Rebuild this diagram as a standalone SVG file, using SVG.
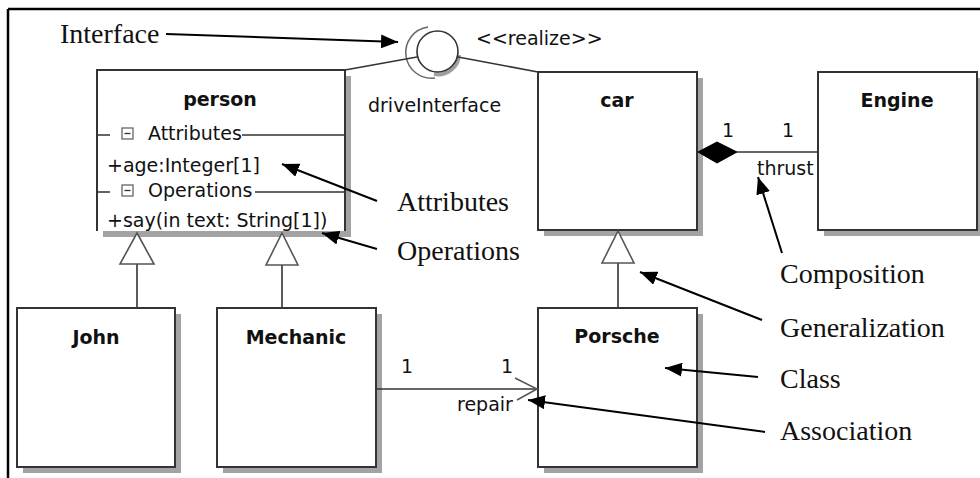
<svg xmlns="http://www.w3.org/2000/svg" width="980" height="478" viewBox="0 0 980 478">
<style>
.box{fill:#fff;stroke:#333;stroke-width:2}
.shadow{fill:#a3a3a3}
.title{font-family:"DejaVu Sans",sans-serif;font-weight:bold;font-size:19px;fill:#111;text-anchor:middle}
.t{font-family:"DejaVu Sans",sans-serif;font-size:19px;fill:#111}
.note{font-family:"Liberation Serif",serif;font-size:28px;fill:#111}
.ln{fill:none;stroke:#333;stroke-width:1.6}
.gen{fill:#fff;stroke:#555;stroke-width:1.6}
.ann{fill:none;stroke:#000;stroke-width:2;marker-end:url(#ah)}
</style>
<defs>
<marker id="ah" markerUnits="userSpaceOnUse" markerWidth="18" markerHeight="14" refX="17" refY="7" orient="auto">
<path d="M0,0 L17,7 L0,14 Z" fill="#000"/>
</marker>
</defs>
<rect width="980" height="478" fill="#fff"/>
<g id="frame">
<path d="M8,9 H980 M8,9 V478" fill="none" stroke="#000" stroke-width="2.5"/>
</g>

<g id="person">
<rect class="shadow" x="103" y="76" width="248" height="161"/>
<rect x="97" y="70" width="248" height="161" fill="#fff"/>
<path d="M97,231 V70 H345 V231" fill="none" stroke="#333" stroke-width="2"/>
<text class="title" x="220" y="106">person</text>
<path d="M97,135 H110 M242,135 H345 M97,192 H110 M255,192 H345" class="ln"/>
<rect x="122" y="128" width="11" height="11" fill="none" stroke="#666" stroke-width="1.3"/>
<path d="M124.5,133.5 H130.5" stroke="#333" stroke-width="1.3"/>
<text class="t" x="148" y="140">Attributes</text>
<text class="t" x="107" y="172">+age:Integer[1]</text>
<rect x="122" y="185" width="11" height="11" fill="none" stroke="#666" stroke-width="1.3"/>
<path d="M124.5,190.5 H130.5" stroke="#333" stroke-width="1.3"/>
<text class="t" x="148" y="197">Operations</text>
<text class="t" x="107" y="227">+say(in text: String[1])</text>
</g>

<g id="car">
<rect class="shadow" x="544" y="78" width="159" height="158"/>
<rect class="box" x="538" y="72" width="159" height="158"/>
<text class="title" x="617" y="107">car</text>
</g>

<g id="engine">
<rect class="shadow" x="824" y="78" width="159" height="158"/>
<rect class="box" x="818" y="72" width="159" height="158"/>
<text class="title" x="897" y="107">Engine</text>
</g>

<g id="john">
<rect class="shadow" x="23" y="314" width="158" height="159"/>
<rect class="box" x="17" y="308" width="158" height="159"/>
<text class="title" x="96" y="344">John</text>
</g>

<g id="mechanic">
<rect class="shadow" x="223" y="314" width="159" height="159"/>
<rect class="box" x="217" y="308" width="159" height="159"/>
<text class="title" x="296" y="344">Mechanic</text>
</g>

<g id="porsche">
<rect class="shadow" x="544" y="314" width="159" height="159"/>
<rect class="box" x="538" y="308" width="159" height="159"/>
<text class="title" x="617" y="343">Porsche</text>
</g>

<g id="driveInterface">
<path d="M428,27 A25,25 0 1,0 435,78" fill="none" stroke="#666" stroke-width="1.5"/>
<path d="M459,55 A21,21 0 0,1 434,74" fill="none" stroke="#a0a0a0" stroke-width="4"/>
<circle cx="437.5" cy="51.5" r="20.5" fill="none" stroke="#333" stroke-width="1.6"/>
<text class="t" x="368" y="112">driveInterface</text>
<text class="t" x="476" y="45">&lt;&lt;realize&gt;&gt;</text>
</g>

<g id="connectors">
<path d="M345,70 L417,57" class="ln"/>
<path d="M458,57 L538,72" class="ln"/>
<path d="M137,264 V308" class="ln"/>
<path d="M137,233 L154,264 H120 Z" class="gen"/>
<path d="M282,264 V308" class="ln"/>
<path d="M282,233 L298,265 H266 Z" class="gen"/>
<path d="M618,263 V308" class="ln"/>
<path d="M618,231 L634,263 H602 Z" class="gen"/>
<path d="M737,152 H818" class="ln"/>
<path d="M698,152 L717,142 L737,152 L717,163 Z" fill="#000" stroke="#000" stroke-width="1"/>
<text class="t" x="722" y="137">1</text>
<text class="t" x="782" y="137">1</text>
<text class="t" x="757" y="175">thrust</text>
<path d="M376,389 H537" class="ln"/>
<path d="M515,378 L537,389 L517,400" fill="none" stroke="#555" stroke-width="1.5"/>
<text class="t" x="401" y="373">1</text>
<text class="t" x="501" y="373">1</text>
<text class="t" x="457" y="411">repair</text>
</g>

<g id="annotations">
<text class="note" x="60" y="43">Interface</text>
<path d="M166,34 L398,42" class="ann"/>
<text class="note" x="397" y="211">Attributes</text>
<path d="M377,201 L282,164" class="ann"/>
<text class="note" x="397" y="260">Operations</text>
<path d="M377,249 L322,233" class="ann"/>
<text class="note" x="780" y="283">Composition</text>
<path d="M782,253 L758,177" class="ann"/>
<text class="note" x="780" y="337">Generalization</text>
<path d="M762,320 L640,272" class="ann"/>
<text class="note" x="780" y="388">Class</text>
<path d="M758,377 L665,368" class="ann"/>
<text class="note" x="780" y="440">Association</text>
<path d="M765,432 L528,400" class="ann"/>
</g>
</svg>
